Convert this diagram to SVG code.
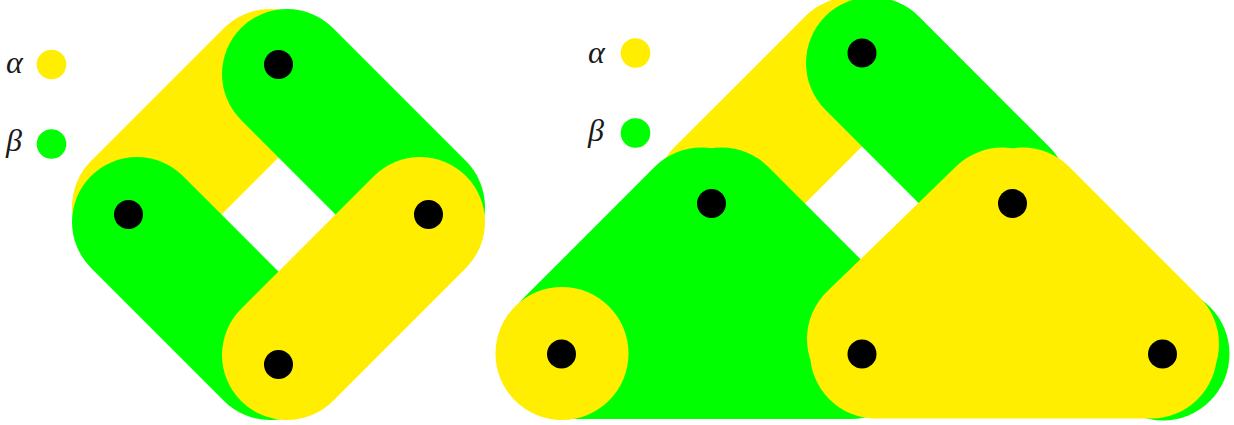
<svg xmlns="http://www.w3.org/2000/svg" width="1234" height="425" viewBox="0 0 1234 425">
  <style>
    .ya { stroke: #FFEE00; fill: none; stroke-linecap: round; stroke-linejoin: round; }
    .gb { stroke: #00FF00; fill: none; stroke-linecap: round; stroke-linejoin: round; }
    .yf { fill: #FFEE00; }
    .gf { fill: #00FF00; }
    .w1 { stroke-width: 130; }
    .w2 { stroke-width: 132; }
    .dot { fill: #000000; }
    .lbl { font-family: "Liberation Serif", "DejaVu Serif", serif; font-style: italic; font-size: 32px; fill: #1a1a1a; }
  </style>
  <rect width="1234" height="425" fill="#FFFFFF"/>

  <!-- Left legend -->
  <g id="legend-left">
    <text class="lbl" x="6" y="73">α</text>
    <circle class="yf" cx="51.5" cy="64.5" r="14.8"/>
    <text class="lbl" x="6" y="151">β</text>
    <circle class="gf" cx="51.5" cy="144" r="14.8"/>
  </g>

  <!-- Left figure hyperedges -->
  <g id="left-edges">
    <line id="L-alpha-1" class="ya w1" x1="270" y1="74" x2="137" y2="207"/>
    <line id="L-beta-1" class="gb w1" x1="287" y1="74" x2="420" y2="207"/>
    <line id="L-beta-2" class="gb w1" x1="270" y1="355" x2="137" y2="222"/>
    <line id="L-alpha-2" class="ya w1" x1="287" y1="355" x2="420" y2="222"/>
  </g>

  <!-- Left figure nodes -->
  <g id="L-n1"><circle class="dot" cx="278.5" cy="64.5" r="14.5"/></g>
  <g id="L-n2"><circle class="dot" cx="128.5" cy="214.5" r="14.5"/></g>
  <g id="L-n3"><circle class="dot" cx="428.5" cy="214.5" r="14.5"/></g>
  <g id="L-n4"><circle class="dot" cx="278.5" cy="364.5" r="14.5"/></g>

  <!-- Right legend -->
  <g id="legend-right">
    <text class="lbl" x="588" y="63">α</text>
    <circle class="yf" cx="635.5" cy="53" r="14.8"/>
    <text class="lbl" x="588" y="141">β</text>
    <circle class="gf" cx="635.5" cy="133" r="14.8"/>
  </g>

  <!-- Right figure hyperedges -->
  <g id="right-edges">
    <line id="R-alpha-1" class="ya w2" x1="852" y1="63" x2="721.5" y2="193.5"/>
    <line id="R-beta-1" class="gb w2" x1="872" y1="63" x2="1002.5" y2="193.5"/>
    <g id="R-beta-2">
      <polygon class="gf" points="701.5,213.5 721.5,213.5 852,344 851,353 572,353 571,344"/>
      <path class="gb w2" d="M701.5,213.5 L571,344 M721.5,213.5 L852,344 M572,353 L851,353"/>
    </g>
    <circle id="R-alpha-3" class="yf" cx="562" cy="353.5" r="66.5"/>
    <circle id="R-beta-3" class="gf" cx="1163" cy="354" r="66.5"/>
    <g id="R-alpha-2">
      <polygon class="yf" points="1002.5,213.5 1022.5,213.5 1153,344 1151,352.5 876,352.5 873,339"/>
      <path class="ya w2" d="M1002.5,213.5 L873,339 M1022.5,213.5 L1153,344 M876,352.5 L1151,352.5"/>
    </g>
  </g>

  <!-- Right figure nodes -->
  <g id="R-n1"><circle class="dot" cx="862" cy="53" r="14.5"/></g>
  <g id="R-n2"><circle class="dot" cx="711.5" cy="203.5" r="14.5"/></g>
  <g id="R-n3"><circle class="dot" cx="1012.5" cy="203.5" r="14.5"/></g>
  <g id="R-n4"><circle class="dot" cx="561.5" cy="354" r="14.5"/></g>
  <g id="R-n5"><circle class="dot" cx="862" cy="354" r="14.5"/></g>
  <g id="R-n6"><circle class="dot" cx="1162.5" cy="354" r="14.5"/></g>
</svg>
